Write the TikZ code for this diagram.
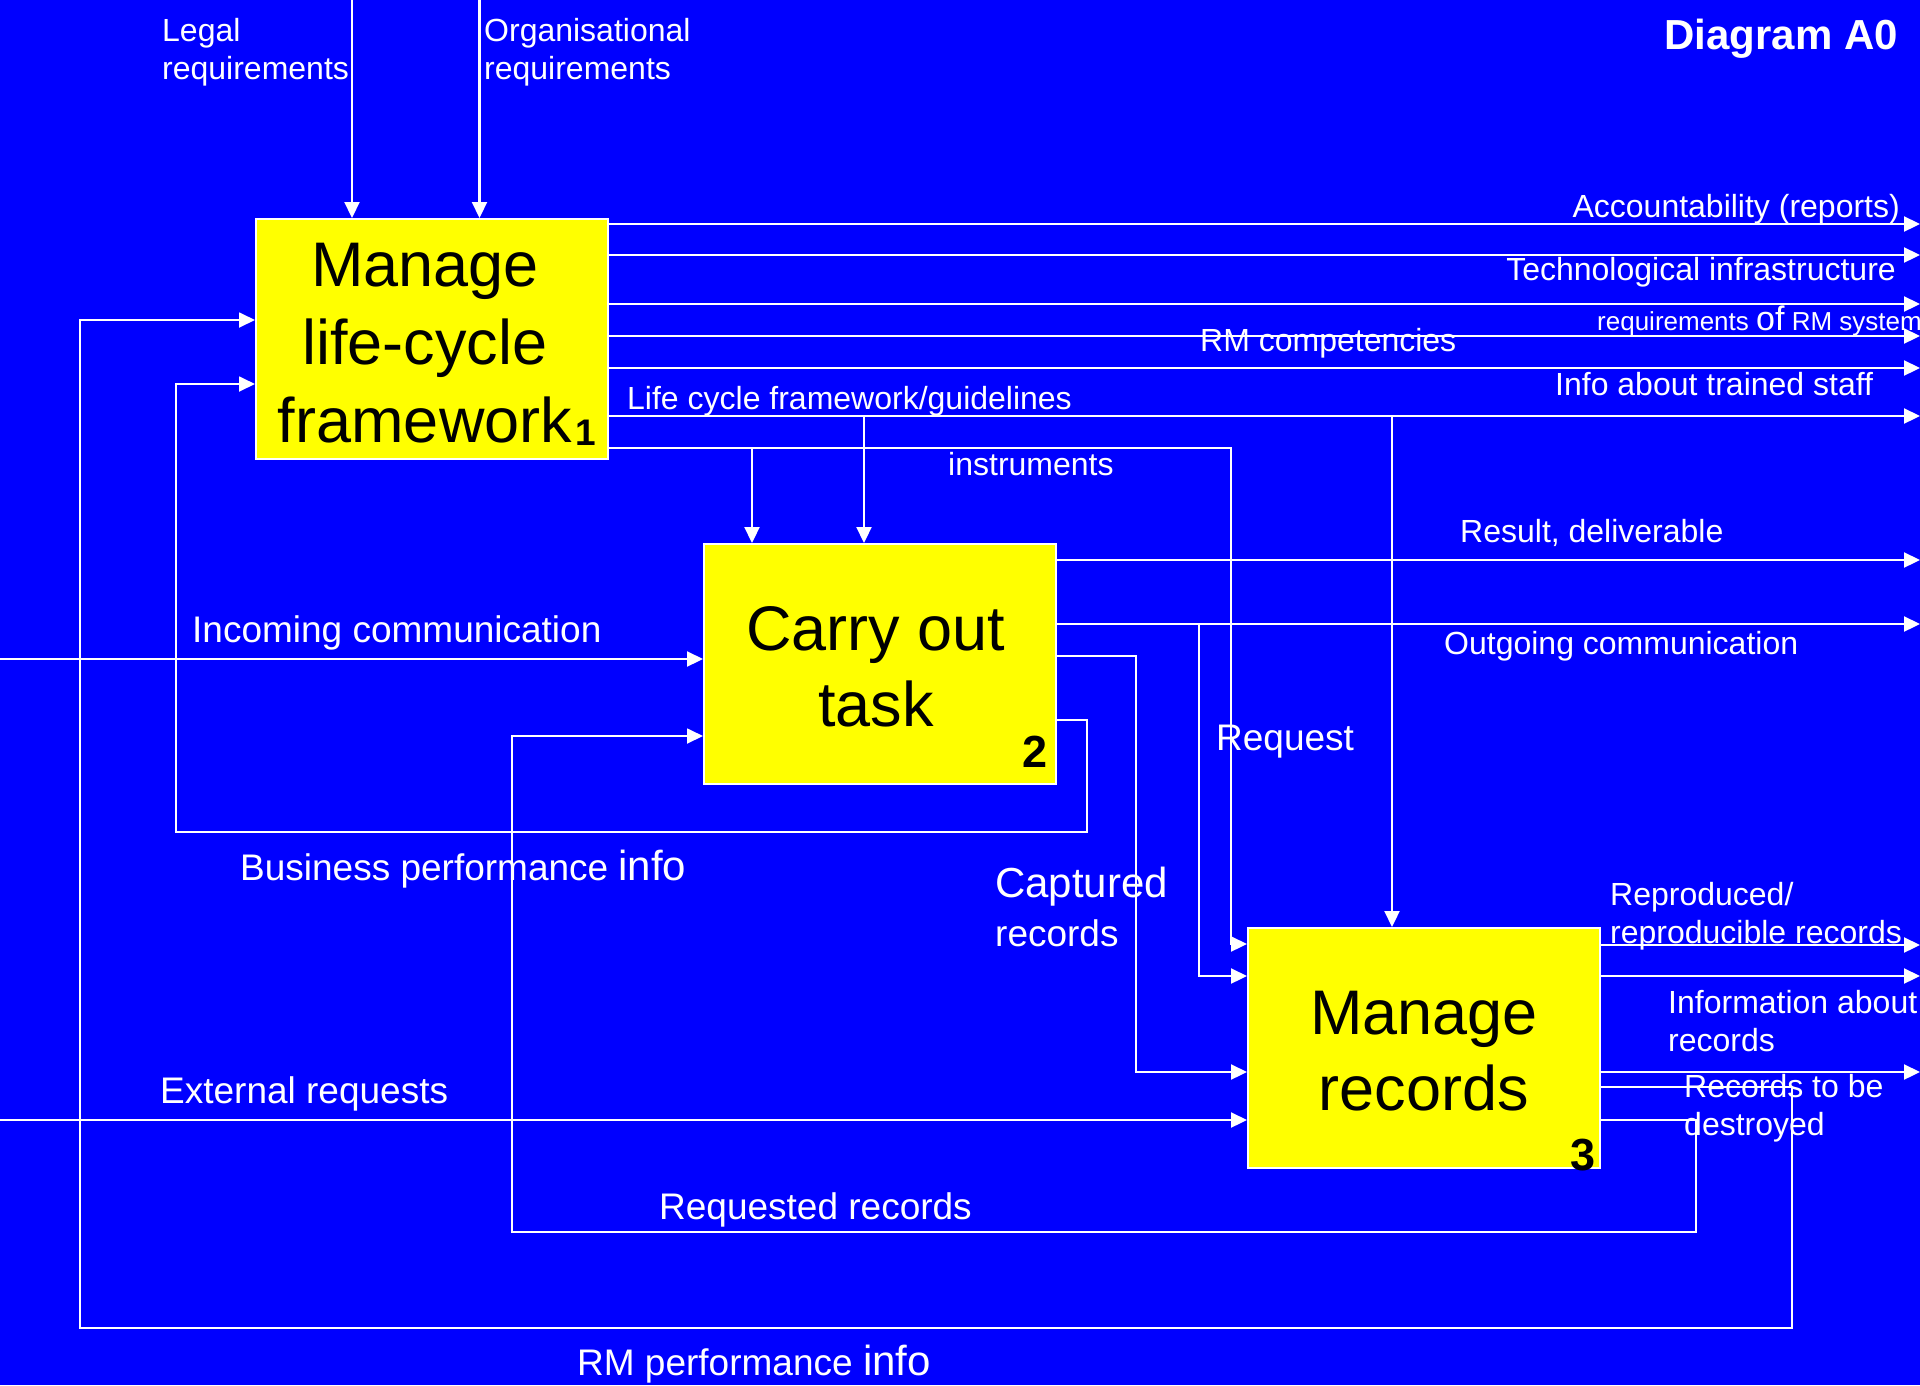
\documentclass[tikz,border=0pt]{standalone}
\usepackage{fontspec}
\setmainfont{Liberation Sans}
\usetikzlibrary{arrows.meta}
\definecolor{bgblue}{RGB}{0,0,255}
\definecolor{boxyellow}{RGB}{255,255,0}
\begin{document}
\begin{tikzpicture}[x=1pt,y=-1pt,
  flow/.style={draw=white, line width=2.2pt},
  fback/.style={draw=white, line width=1.8pt},
  tip/.style={-{Triangle[length=16pt,width=15pt]}},
  proc/.style={draw=white, line width=2pt, fill=boxyellow, minimum width=352pt, minimum height=240pt, inner sep=0pt},
  ptext/.style={text=black, inner sep=0pt, align=center, font=\fontsize{63}{76}\selectfont},
  num/.style={text=black, inner sep=0pt, font=\fontsize{45}{50}\selectfont\bfseries},
  lbl/.style={text=white, inner sep=0pt, align=left, font=\fontsize{32}{38}\selectfont},
  lblb/.style={text=white, inner sep=0pt, align=left, font=\fontsize{37}{44}\selectfont},
  lbls/.style={text=white, inner sep=0pt, align=left, font=\fontsize{26}{30}\selectfont},
]
\useasboundingbox (0,0) rectangle (1920,1385);
\fill[bgblue] (0,0) rectangle (1920,1385);
\begin{scope}
\clip (0,0) rectangle (1920,1385);

% process boxes
\node[proc] (b1) at (432,339) {};
\node[proc] (b2) at (880,664) {};
\node[proc] (b3) at (1424,1048) {};
\node[ptext] (b1t) at (425,343) {Manage\\[2pt]life-cycle\\[2pt]framework};
\node[ptext] (b2t) at (876,667) {Carry out\\task};
\node[ptext] (b3t) at (1424,1051) {Manage\\records};
\node[text=black, inner sep=0pt, font=\fontsize{37}{40}\selectfont\bfseries] (n1) at (586,433) {1};
\node[num] (n2) at (1035,752) {2};
\node[num] (n3) at (1583,1155) {3};

% named coordinates
\coordinate (legalTop) at (352,0);
\coordinate (orgTop) at (479.5,0);
\coordinate (o1) at (1920,224);
\coordinate (o2) at (1920,255);
\coordinate (o3) at (1920,304);
\coordinate (o4) at (1920,336);
\coordinate (o5) at (1920,368);
\coordinate (o6) at (1920,416);
\coordinate (inst) at (1231,448);
\coordinate (yInst) at (0,944);
\coordinate (j1) at (752,448);
\coordinate (j2) at (864,416);
\coordinate (j3) at (1392,416);
\coordinate (inL) at (0,659);
\coordinate (res) at (1920,560);
\coordinate (outg) at (1920,624);
\coordinate (j4) at (1199,624);
\coordinate (yReq) at (0,976);
\coordinate (capA) at (1136,656);
\coordinate (yCap) at (0,1072);
\coordinate (bp0) at (0,720);
\coordinate (bp1) at (1087,720);
\coordinate (bp2) at (1087,832);
\coordinate (bp3) at (176,832);
\coordinate (bp4) at (176,384);
\coordinate (rp0) at (0,1087);
\coordinate (rp1) at (1792,1087);
\coordinate (rp2) at (1792,1328);
\coordinate (rp3) at (80,1328);
\coordinate (rp4) at (80,320);
\coordinate (rq0) at (0,1120);
\coordinate (rq1) at (1696,1120);
\coordinate (rq2) at (1696,1232);
\coordinate (rq3) at (512,1232);
\coordinate (rq4) at (512,736);
\coordinate (ext) at (0,1120);
\coordinate (p1) at (1920,945);
\coordinate (p2) at (1920,976);
\coordinate (p3) at (1920,1072);

% controls from top
\draw[flow,tip] (legalTop) -- (legalTop |- b1.north);
\draw[flow,tip] (orgTop) -- (orgTop |- b1.north);

% outputs of box 1
\draw[flow,tip] (b1.east |- o1) -- (o1);
\draw[flow,tip] (b1.east |- o2) -- (o2);
\draw[flow,tip] (b1.east |- o3) -- (o3);
\draw[flow,tip] (b1.east |- o4) -- (o4);
\draw[flow,tip] (b1.east |- o5) -- (o5);
\draw[flow,tip] (b1.east |- o6) -- (o6);
\draw[flow,tip] (j2) -- (j2 |- b2.north);
\draw[flow,tip] (j3) -- (j3 |- b3.north);
\draw[flow,tip] (b1.east |- inst) -- (inst) -- (inst |- yInst) -- (b3.west |- yInst);
\draw[flow,tip] (j1) -- (j1 |- b2.north);

% box 2
\draw[flow,tip] (inL) -- (inL -| b2.west);
\draw[flow,tip] (b2.east |- res) -- (res);
\draw[flow,tip] (b2.east |- outg) -- (outg);
\draw[flow,tip] (j4) -- (j4 |- yReq) -- (b3.west |- yReq);
\draw[flow,tip] (b2.east |- capA) -- (capA) -- (capA |- yCap) -- (b3.west |- yCap);
\draw[fback,tip] (b2.east |- bp0) -- (bp1) -- (bp2) -- (bp3) -- (bp4) -- (b1.west |- bp4);

% box 3
\draw[flow,tip] (ext) -- (b3.west |- ext);
\draw[flow,tip] (b3.east |- p1) -- (p1);
\draw[flow,tip] (b3.east |- p2) -- (p2);
\draw[flow,tip] (b3.east |- p3) -- (p3);
\draw[fback,tip] (b3.east |- rp0) -- (rp1) -- (rp2) -- (rp3) -- (rp4) -- (b1.west |- rp4);
\draw[fback,tip] (b3.east |- rq0) -- (rq1) -- (rq2) -- (rq3) -- (rq4) -- (b2.west |- rq4);

% labels
\node[lbl, anchor=west] (tLegal) at (162,52) {Legal\\requirements};
\node[lbl, anchor=west] (tOrg) at (484,52) {Organisational\\requirements};
\node[text=white, inner sep=0pt, anchor=east, font=\fontsize{42}{48}\selectfont\bfseries] (tTitle) at (1898,39) {Diagram A0};
\node[lbl, anchor=east] (tAcc) at (1900,209) {Accountability (reports)};
\node[lbl, anchor=east] (tTech) at (1896,272) {Technological infrastructure};
\node[lbls, anchor=west] (tReqRM) at (1597,321) {requirements {\fontsize{34}{38}\selectfont of} RM system};
\node[lbl, anchor=west] (tComp) at (1200,343) {RM competencies};
\node[lbl, anchor=west] (tInfo) at (1555,384) {Info about trained staff};
\node[lbl, anchor=west] (tLife) at (627,401) {Life cycle framework/guidelines};
\node[lbl, anchor=west] (tInst) at (948,464) {instruments};
\node[lbl, anchor=west] (tRes) at (1460,533) {Result, deliverable};
\node[lbl, anchor=west] (tOut) at (1444,646) {Outgoing communication};
\node[lblb, anchor=west] (tInc) at (192,633) {Incoming communication};
\node[lblb, anchor=west] (tReq) at (1216,742) {Request};
\node[text=white, inner sep=0pt, anchor=west, font=\fontsize{42}{48}\selectfont] (tCap) at (995,887) {Captured};
\node[lblb, anchor=west] (tCap2) at (995,933) {records};
\node[lblb, anchor=west] (tBus) at (240,869) {Business performance {\fontsize{42}{48}\selectfont info}};
\node[lbl, anchor=west] (tRepro) at (1610,916) {Reproduced/\\reproducible records};
\node[lbl, anchor=west] (tInfoRec) at (1668,1021) {Information about\\records};
\node[lbl, anchor=west] (tDestr) at (1684,1108) {Records to be\\destroyed};
\node[lblb, anchor=west] (tExt) at (160,1094) {External requests};
\node[lblb, anchor=west] (tRqRec) at (659,1210) {Requested records};
\node[lblb, anchor=west] (tRMperf) at (577,1364) {RM performance {\fontsize{42}{48}\selectfont info}};
\end{scope}
\end{tikzpicture}
\end{document}
